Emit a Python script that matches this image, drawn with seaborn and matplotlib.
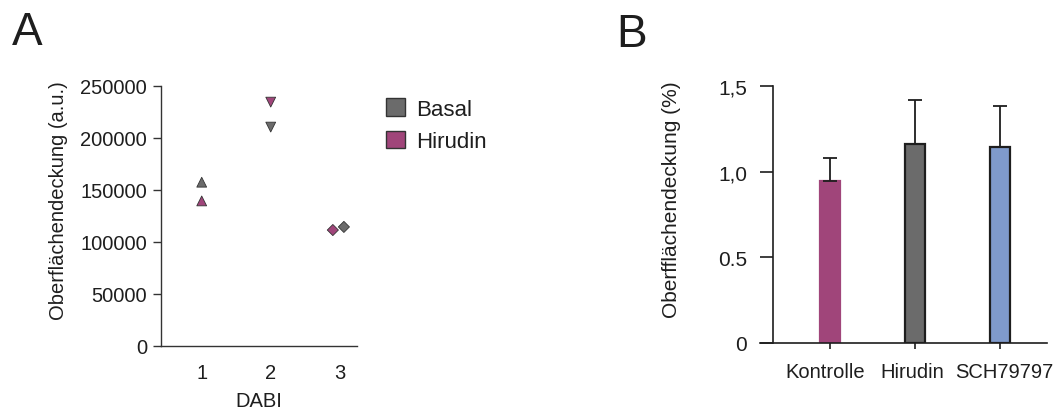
import numpy as np
import pandas as pd
import matplotlib
matplotlib.use("Agg")
import matplotlib.pyplot as plt
import matplotlib.transforms as mtransforms
import seaborn as sns
from matplotlib.patches import Patch

# ---- data: panel A (scatter) ----
dabi = [1, 1, 2, 2, 3, 3]
group = ["Basal", "Hirudin", "Basal", "Hirudin", "Basal", "Hirudin"]
coverage_au = [157500, 139500, 210500, 234500, 114500, 111500]
dodge = [0, 0, 0, 0, 0.06, -0.1]

# ---- data: panel B (bars) ----
treatments = ["Kontrolle", "Hirudin", "SCH79797"]
coverage_pct = [0.947, 1.161, 1.146]
coverage_err = [0.134, 0.257, 0.239]
ytick_vals_b = [0, 0.5, 1.0, 1.5]
ytick_labels_b = ["0", "0.5", "1,0", "1,5"]

MAGENTA = "#a0457a"
GREY = "#6b6b6b"
BLUE = "#7f9acb"
INK = "#1e1e1e"

sns.set_style("white")
plt.rcParams["font.family"] = ["Liberation Sans", "DejaVu Sans"]
plt.rcParams["text.color"] = INK
plt.rcParams["xtick.color"] = INK
plt.rcParams["ytick.color"] = INK
plt.rcParams["axes.labelcolor"] = INK

fig = plt.figure(figsize=(10.62, 4.10), dpi=100)

# ---------------- Panel A ----------------
axA = fig.add_axes([161 / 1062, 1 - 347 / 410, (357 - 161) / 1062, (347 - 87) / 410])
dfA = pd.DataFrame({"DABI": dabi, "Gruppe": group, "Wert": coverage_au})
dfA["x"] = dfA["DABI"] + np.array(dodge)
markers = {1: "^", 2: "v", 3: "D"}
for d, sub in dfA.groupby("DABI"):
    sns.scatterplot(data=sub, x="x", y="Wert", hue="Gruppe",
                    palette={"Basal": GREY, "Hirudin": MAGENTA},
                    marker=markers[d], s=50 if d != 3 else 32,
                    edgecolor="#333333", linewidth=0.6, legend=False,
                    ax=axA, clip_on=False, zorder=3)
axA.set_xlim(0.41, 3.25)
axA.set_ylim(0, 250000)
axA.set_xticks([1, 2, 3])
axA.set_yticks([0, 50000, 100000, 150000, 200000, 250000])
axA.set_yticklabels(["0", "50000", "100000", "150000", "200000", "250000"])
axA.tick_params(axis="y", length=6, width=1, pad=4, labelsize=14.5, color="#333333", left=True)
axA.tick_params(axis="x", length=0, pad=12, labelsize=14.5)
sns.despine(ax=axA)
for sp in ["left", "bottom"]:
    axA.spines[sp].set_color("#333333")
    axA.spines[sp].set_linewidth(1)
axA.set_xlabel("DABI", fontsize=14.5, labelpad=7)
axA.set_ylabel("Oberflächendeckung (a.u.)", fontsize=14.5)
axA.yaxis.set_label_coords(68 / 1062, 1 - 201 / 410, transform=fig.transFigure)

handles = [Patch(facecolor=GREY, edgecolor="#333333", linewidth=1, label="Basal"),
           Patch(facecolor=MAGENTA, edgecolor="#333333", linewidth=1, label="Hirudin")]
fig.legend(handles=handles, loc="upper left", bbox_to_anchor=(386 / 1062, 1 - 99 / 410),
           frameon=False, fontsize=16, handlelength=0.85, handleheight=0.85,
           handletextpad=0.5, labelspacing=0.5, borderpad=0, borderaxespad=0)

# ---------------- Panel B ----------------
axB = fig.add_axes([760 / 1062, 1 - 344 / 410, (1047 - 760) / 1062, (344 - 87) / 410])
dfB = pd.DataFrame({"Behandlung": treatments, "Wert": coverage_pct, "Fehler": coverage_err})
sns.barplot(data=dfB, x="Behandlung", y="Wert", hue="Behandlung",
            palette=[MAGENTA, GREY, BLUE], width=0.235, legend=False, ax=axB,
            edgecolor=INK, linewidth=1.6, saturation=1)
axB.patches[0].set_edgecolor(MAGENTA)
axB.errorbar(range(len(treatments)), dfB["Wert"],
             yerr=[np.zeros(len(treatments)), dfB["Fehler"]],
             fmt="none", ecolor=INK, elinewidth=1.3, capsize=5, capthick=1.3, zorder=1)
axB.set_xlim(-0.82, 2.55)
axB.set_ylim(0, 1.5)
axB.set_yticks(ytick_vals_b)
axB.set_yticklabels(ytick_labels_b)
sns.despine(ax=axB)
axB.spines["left"].set_position(("data", -0.67))
for sp in ["left", "bottom"]:
    axB.spines[sp].set_color(INK)
    axB.spines[sp].set_linewidth(1.2)
axB.tick_params(axis="y", length=9.5, width=1.2, pad=9, labelsize=15, left=True, color=INK)
axB.tick_params(axis="x", length=4.5, width=1.2, pad=9, labelsize=14.5, bottom=True, color=INK)
# the labels sit slightly off their ticks in the original
for lab, dx in zip(axB.get_xticklabels(), [-5, -3, 4]):
    lab.set_transform(lab.get_transform() +
                      mtransforms.ScaledTranslation(dx / 100, 0, fig.dpi_scale_trans))
axB.set_xlabel("")
axB.set_ylabel("Oberfflächendeckung (%)", fontsize=15)
axB.yaxis.set_label_coords(681 / 1062, 1 - 200 / 410, transform=fig.transFigure)

# panel letters
fig.text(12 / 1062, 1 - 45 / 410, "A", fontsize=33, ha="left", va="baseline")
fig.text(616 / 1062, 1 - 47 / 410, "B", fontsize=33, ha="left", va="baseline")

fig.savefig("out.png", dpi=100)
plt.close(fig)
